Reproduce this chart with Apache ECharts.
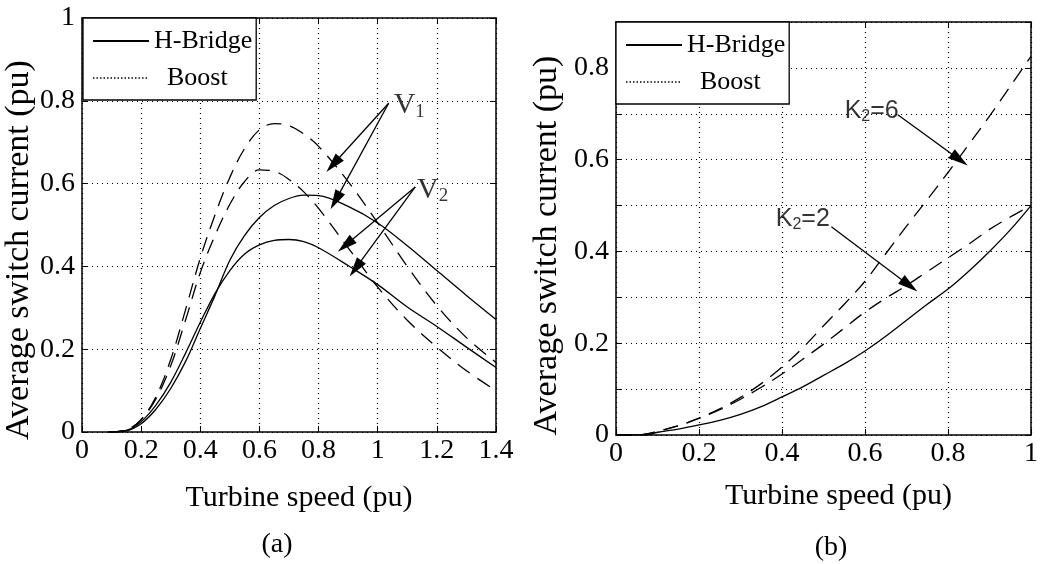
<!DOCTYPE html>
<html>
<head>
<meta charset="utf-8">
<script src="https://cdn.jsdelivr.net/npm/echarts@6/dist/echarts.min.js"></script>
<style>
  html, body { margin: 0; padding: 0; background: #fff; }
  #chart { width: 1043px; height: 564px; }
</style>
</head>
<body>
<div id="chart"></div>
<script>
// ---- Panel (a): average switch current vs turbine speed, two DC-link voltages ----
const speedA = [0.09, 0.15, 0.2, 0.25, 0.3, 0.35, 0.4, 0.45, 0.5, 0.55, 0.6, 0.65, 0.7, 0.75, 0.8, 0.9, 1.0, 1.1, 1.2, 1.3, 1.4];
const hBridgeV1 = [0, 0.003, 0.02, 0.055, 0.105, 0.17, 0.25, 0.33, 0.415, 0.475, 0.518, 0.547, 0.564, 0.572, 0.571, 0.545, 0.505, 0.45, 0.39, 0.33, 0.272];
const hBridgeV2 = [0, 0.004, 0.025, 0.065, 0.12, 0.19, 0.265, 0.335, 0.39, 0.43, 0.452, 0.463, 0.465, 0.46, 0.445, 0.402, 0.356, 0.302, 0.255, 0.205, 0.156];
const boostV1 = [0, 0.005, 0.03, 0.085, 0.175, 0.295, 0.42, 0.525, 0.615, 0.685, 0.73, 0.745, 0.74, 0.72, 0.69, 0.605, 0.505, 0.4, 0.305, 0.228, 0.168];
const boostV2 = [0, 0.005, 0.03, 0.08, 0.16, 0.27, 0.385, 0.475, 0.55, 0.605, 0.633, 0.63, 0.61, 0.58, 0.54, 0.445, 0.35, 0.27, 0.205, 0.148, 0.1];

// ---- Panel (b): average switch current vs turbine speed, two K2 values ----
const speedB = [0, 0.05, 0.07, 0.1, 0.15, 0.2, 0.25, 0.3, 0.35, 0.4, 0.45, 0.5, 0.55, 0.6, 0.65, 0.7, 0.75, 0.8, 0.85, 0.9, 0.95, 1.0];
const hBridgeB = [0, 0, 0, 0.006, 0.013, 0.022, 0.032, 0.045, 0.062, 0.083, 0.105, 0.13, 0.155, 0.183, 0.215, 0.25, 0.285, 0.318, 0.357, 0.4, 0.447, 0.5];
const boostK2 = [0, 0, 0.002, 0.008, 0.02, 0.036, 0.055, 0.078, 0.104, 0.133, 0.165, 0.198, 0.233, 0.268, 0.298, 0.326, 0.356, 0.386, 0.416, 0.448, 0.475, 0.5];
const boostK6 = [0, 0, 0.002, 0.008, 0.02, 0.037, 0.057, 0.082, 0.112, 0.148, 0.19, 0.238, 0.285, 0.335, 0.395, 0.455, 0.513, 0.572, 0.633, 0.695, 0.76, 0.825];

// Axis ranges and tick spacing
const xRangeA = [0, 1.4, 0.2];
const yRangeA = [0, 1, 0.2];
const xRangeB = [0, 1, 0.2];
const yRangeB = [0, 0.9, 0.1];

// Annotation labels [x, y, subscript] and arrows [[fromX, fromY], [toX, toY]]
const labelsA = [[1.054, 0.789, '1'], [1.133, 0.585, '2']];
const arrowsA = [
  [[1.037, 0.794], [0.849, 0.646]],
  [[1.037, 0.794], [0.857, 0.559]],
  [[1.127, 0.592], [0.891, 0.451]],
  [[1.127, 0.592], [0.925, 0.395]]
];
const labelsB = [[0.551, 0.706, '6'], [0.385, 0.471, '2']];
const arrowsB = [
  [[0.679, 0.698], [0.828, 0.600]],
  [[0.519, 0.454], [0.707, 0.326]]
];

const SERIF = "'Liberation Serif', 'Times New Roman', serif";
const SANS = "'Liberation Sans', Arial, sans-serif";
const INK = '#000';

const zip = (xs, ys) => xs.map((x, i) => [x, ys[i]]);

function curve(name, xs, ys, dashed, gi) {
  return {
    type: 'line', name,
    xAxisIndex: gi * 2, yAxisIndex: gi * 2,
    data: zip(xs, ys),
    symbol: 'none', showSymbol: false,
    smooth: 0.35,
    lineStyle: { color: INK, width: 1.3, type: dashed ? [15, 9] : 'solid' },
    itemStyle: { color: INK },
    z: 3
  };
}

function axisPair(range, gi, isX, name, nameGap, namePad, labelFmt) {
  const [min, max, interval] = range;
  const lineStyle = { color: INK, width: 1.5 };
  const main = {
    type: 'value', gridIndex: gi, min, max, interval,
    axisLine: { show: true, onZero: false, lineStyle },
    axisTick: { show: true, inside: true, length: 6, lineStyle: { color: INK, width: 1 } },
    axisLabel: {
      show: true, color: INK, fontFamily: SERIF, fontSize: 28, margin: isX ? 5 : 7,
      formatter: labelFmt || (v => String(+v.toFixed(2)))
    },
    splitLine: { show: true, lineStyle: { color: INK, width: 1.2, type: [1, 4] } },
    name, nameLocation: 'middle', nameGap,
    nameTextStyle: isX
      ? { color: INK, fontFamily: SERIF, fontSize: 30, padding: namePad }
      : { color: INK, fontFamily: SERIF, fontSize: 34, padding: namePad },
    position: isX ? 'bottom' : 'left'
  };
  const mirror = {
    type: 'value', gridIndex: gi, min, max, interval,
    position: isX ? 'top' : 'right',
    axisLine: { show: true, onZero: false, lineStyle },
    axisTick: { show: true, inside: true, length: 6, lineStyle: { color: INK, width: 1 } },
    axisLabel: { show: false },
    splitLine: { show: false }
  };
  return [main, mirror];
}

function legendAt(left, top) {
  return {
    left, top, orient: 'vertical',
    data: [
      { name: 'H-Bridge' },
      { name: 'Boost', lineStyle: { type: [1.5, 2], width: 1.3, color: INK } }
    ],
    itemWidth: 56, itemHeight: 14, itemGap: 7,
    padding: [8, 4, 7, 9],
    borderColor: INK, borderWidth: 1.3, borderRadius: 0,
    backgroundColor: '#fff',
    itemStyle: { opacity: 0 },
    textStyle: { color: INK, fontFamily: SERIF, fontSize: 26, lineHeight: 30 },
    formatter: n => (n === 'Boost' ? '  Boost' : n),
    selectedMode: false,
    z: 10
  };
}

function notes(gi, labels, arrows, fmt, rich) {
  return {
    type: 'scatter', name: 'notes' + gi,
    xAxisIndex: gi * 2, yAxisIndex: gi * 2,
    data: labels,
    symbolSize: 0,
    label: { show: true, position: 'right', distance: 0, formatter: fmt, rich, color: INK },
    markLine: {
      silent: true,
      symbol: ['none', 'triangle'],
      symbolSize: [11, 20],
      label: { show: false },
      lineStyle: { color: INK, width: 1.3, type: 'solid' },
      itemStyle: { color: INK },
      data: arrows.map(([a, b]) => [{ coord: a }, { coord: b }])
    },
    z: 5
  };
}

const [xA, xA2] = axisPair(xRangeA, 0, true, 'Turbine speed (pu)', 51, [0, 0, 0, 20]);
const [yA, yA2] = axisPair(yRangeA, 0, false, 'Average switch current (pu)', 44, [0, 50, 0, 0]);
const [xB, xB2] = axisPair(xRangeB, 1, true, 'Turbine speed (pu)', 46, [0, 0, 0, 30]);
const [yB, yB2] = axisPair(yRangeB, 1, false, 'Average switch current (pu)', 52, [0, 34, 0, 0],
  v => (Math.round(v * 10) % 2 === 0 ? String(+v.toFixed(2)) : ''));

const option = {
  animation: false,
  backgroundColor: '#fff',
  grid: [
    { left: 82, top: 18, width: 414, height: 414 },
    { left: 616, top: 22, width: 415, height: 413 }
  ],
  xAxis: [xA, xA2, xB, xB2],
  yAxis: [yA, yA2, yB, yB2],
  legend: [legendAt(83, 18), legendAt(616, 22)],
  series: [
    curve('H-Bridge', speedA, hBridgeV1, false, 0),
    curve('H-Bridge', speedA, hBridgeV2, false, 0),
    curve('Boost', speedA, boostV1, true, 0),
    curve('Boost', speedA, boostV2, true, 0),
    curve('H-Bridge', speedB, hBridgeB, false, 1),
    curve('Boost', speedB, boostK2, true, 1),
    curve('Boost', speedB, boostK6, true, 1),
    notes(0, labelsA, arrowsA, p => '{v|V}{s|' + p.data[2] + '}', {
      v: { fontFamily: SERIF, fontSize: 30, color: INK },
      s: { fontFamily: SERIF, fontSize: 19, color: INK, padding: [13, 0, 0, 0] }
    }),
    notes(1, labelsB, arrowsB, p => '{k|K}{s|2}{k|=' + p.data[2] + '}', {
      k: { fontFamily: SANS, fontSize: 25, color: INK },
      s: { fontFamily: SANS, fontSize: 16, color: INK, padding: [11, 0, 0, 0] }
    })
  ],
  graphic: [
    { type: 'text', x: 277, y: 545, style: { text: '(a)', font: "28px 'Liberation Serif'", fill: INK, align: 'center', verticalAlign: 'middle' } },
    { type: 'text', x: 831, y: 548, style: { text: '(b)', font: "28px 'Liberation Serif'", fill: INK, align: 'center', verticalAlign: 'middle' } }
  ]
};

const chart = echarts.init(document.getElementById('chart'), null, { renderer: 'canvas' });
chart.setOption(option);
</script>
</body>
</html>
